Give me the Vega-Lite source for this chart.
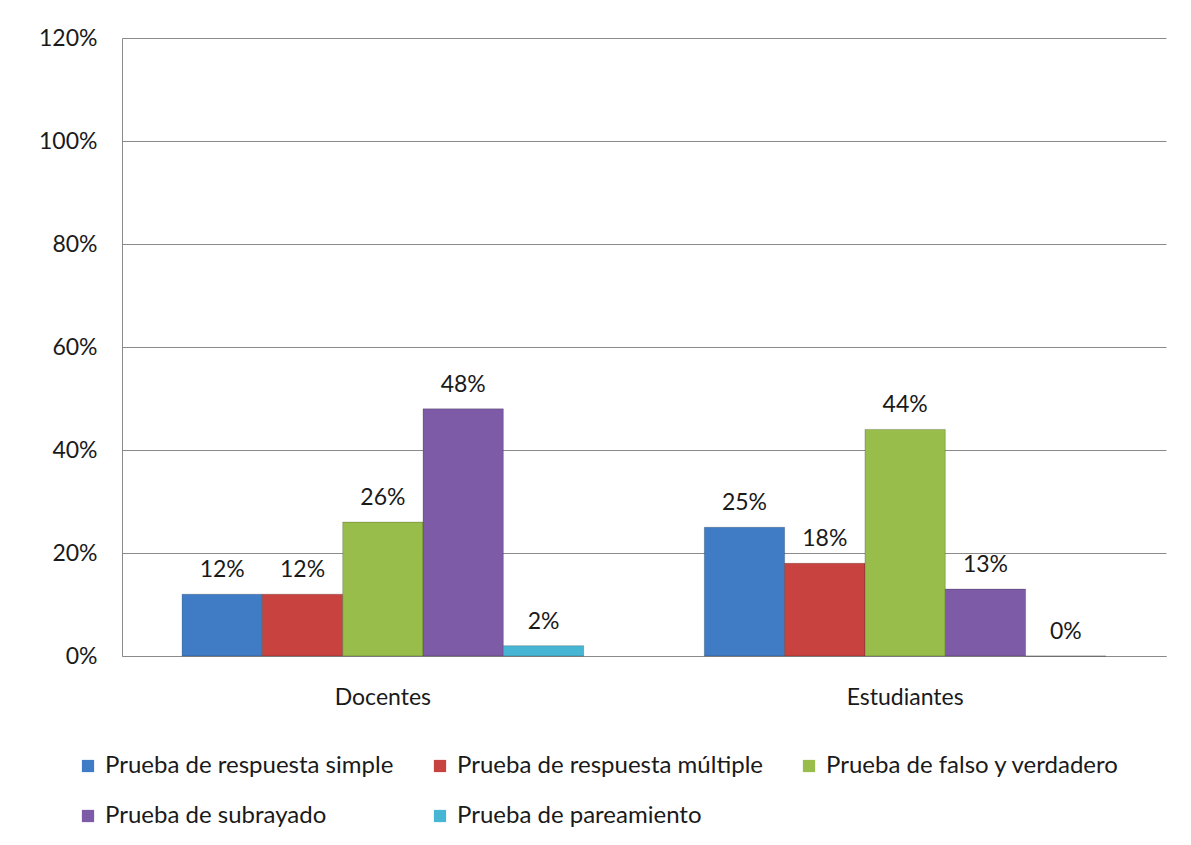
{
  "$schema": "https://vega.github.io/schema/vega-lite/v6.json",
  "width": 1044,
  "height": 618,
  "autosize": "none",
  "padding": {"left": 122, "top": 38, "right": 25, "bottom": 189},
  "background": "white",
  "config": {
    "font": "Lato",
    "view": {"stroke": null},
    "axis": {"labelFont": "Lato", "labelFontSize": 23, "labelColor": "#1a1a1a"},
    "legend": {"labelFont": "Lato", "labelFontSize": 24, "labelColor": "#1a1a1a", "labelLimit": 0}
  },
  "data": {
    "values": [
      {"grupo": "Docentes", "serie": "Prueba de respuesta simple", "valor": 0.12},
      {"grupo": "Docentes", "serie": "Prueba de respuesta múltiple", "valor": 0.12},
      {"grupo": "Docentes", "serie": "Prueba de falso y verdadero", "valor": 0.26},
      {"grupo": "Docentes", "serie": "Prueba de subrayado", "valor": 0.48},
      {"grupo": "Docentes", "serie": "Prueba de pareamiento", "valor": 0.02},
      {"grupo": "Estudiantes", "serie": "Prueba de respuesta simple", "valor": 0.25},
      {"grupo": "Estudiantes", "serie": "Prueba de respuesta múltiple", "valor": 0.18},
      {"grupo": "Estudiantes", "serie": "Prueba de falso y verdadero", "valor": 0.44},
      {"grupo": "Estudiantes", "serie": "Prueba de subrayado", "valor": 0.13},
      {"grupo": "Estudiantes", "serie": "Prueba de pareamiento", "valor": 0.0}
    ]
  },
  "encoding": {
    "x": {
      "field": "grupo",
      "type": "nominal",
      "sort": ["Docentes", "Estudiantes"],
      "scale": {"paddingInner": 0.231, "paddingOuter": 0.115},
      "axis": {
        "title": null,
        "labelAngle": 0,
        "ticks": false,
        "domain": true,
        "domainColor": "#8a8a8a",
        "labelPadding": 30,
        "labelBaseline": "top"
      }
    },
    "xOffset": {
      "field": "serie",
      "type": "nominal",
      "sort": ["Prueba de respuesta simple", "Prueba de respuesta múltiple", "Prueba de falso y verdadero", "Prueba de subrayado", "Prueba de pareamiento"]
    },
    "y": {
      "field": "valor",
      "type": "quantitative",
      "scale": {"domain": [0, 1.2], "nice": false},
      "axis": {
        "title": null,
        "values": [0, 0.2, 0.4, 0.6, 0.8, 1.0, 1.2],
        "format": ".0%",
        "ticks": false,
        "labelPadding": 25,
        "domainColor": "#8a8a8a",
        "gridColor": "#8a8a8a",
        "gridOpacity": 1
      }
    }
  },
  "layer": [
    {
      "mark": {"type": "bar", "stroke": "#000000", "strokeOpacity": 0.2, "strokeWidth": 1},
      "encoding": {
        "color": {
          "field": "serie",
          "type": "nominal",
          "sort": ["Prueba de respuesta simple", "Prueba de respuesta múltiple", "Prueba de falso y verdadero", "Prueba de subrayado", "Prueba de pareamiento"],
          "scale": {
            "domain": ["Prueba de respuesta simple", "Prueba de respuesta múltiple", "Prueba de falso y verdadero", "Prueba de subrayado", "Prueba de pareamiento"],
            "range": ["#407CC6", "#C8423F", "#98BD4A", "#7D5BA6", "#46B6D4"]
          },
          "legend": {
            "title": null,
            "orient": "none",
            "direction": "horizontal",
            "columns": 3,
            "legendX": -46,
            "legendY": 716,
            "symbolType": "square",
            "symbolSize": 150,
            "symbolStrokeWidth": 0,
            "labelOffset": 5,
            "columnPadding": 34,
            "rowPadding": 26
          }
        }
      }
    },
    {
      "mark": {"type": "text", "baseline": "bottom", "dy": -12, "fontSize": 23, "color": "#1a1a1a"},
      "encoding": {"text": {"field": "valor", "type": "quantitative", "format": ".0%"}}
    }
  ]
}
